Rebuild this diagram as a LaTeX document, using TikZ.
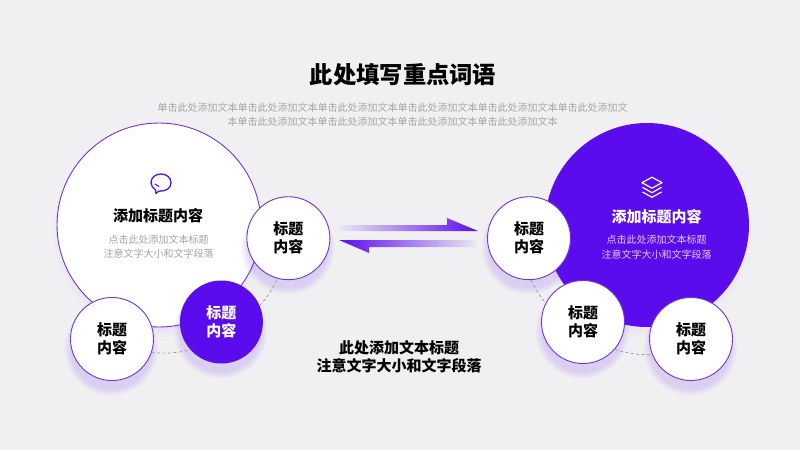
\documentclass[tikz,border=0pt]{standalone}
\usepackage{fontspec}
\setmainfont{Noto Sans CJK SC}
\usetikzlibrary{shadows}
\definecolor{bgray}{RGB}{240,240,242}
\definecolor{vivid}{RGB}{91,12,236}
\definecolor{ringline}{RGB}{112,52,214}
\definecolor{softtext}{RGB}{165,165,168}
\definecolor{liltext}{RGB}{226,204,255}
\tikzset{
  bigdisc/.style={circle,minimum size=204pt,inner sep=0pt,circular drop shadow={shadow xshift=-1pt,shadow yshift=-6pt,shadow scale=1.04,fill=vivid,opacity=.08}},
  smalldisc/.style={circle,minimum size=83pt,inner sep=0pt,align=center,circular drop shadow={shadow xshift=-1pt,shadow yshift=-8pt,shadow scale=1.14,fill=vivid,opacity=.14},font=\fontsize{15}{18}\selectfont\bfseries},
  orbit/.style={dashed,draw=gray!80,line width=.7pt,dash pattern=on 3pt off 2.5pt},
  headline/.style={font=\fontsize{15}{18}\selectfont\bfseries},
  bodyline/.style={align=center,font=\fontsize{10}{14.5}\selectfont}
}
\begin{document}
\begin{tikzpicture}[x=1pt,y=-1pt]
        \fill[bgray] (0,0) rectangle (800,450);
        \useasboundingbox (0,0) rectangle (800,450);
        % title
        \node[font=\fontsize{23.3}{28}\selectfont\bfseries] (title) at (403,75) {此处填写重点词语};
        \node[bodyline,text=softtext,font=\fontsize{10}{14}\selectfont] (intro) at (392.5,115) {单击此处添加文本单击此处添加文本单击此处添加文本单击此处添加文本单击此处添加文本单击此处添加文\\本单击此处添加文本单击此处添加文本单击此处添加文本单击此处添加文本};
        % big circles
        \node[bigdisc,draw=ringline,line width=.9pt,fill=white] (leftbig) at (159,225) {};
        \node[bigdisc,fill=vivid] (rightbig) at (647,225) {};
        % left group
        \node[smalldisc,draw=ringline,line width=.9pt,fill=white] (lefttop) at (288.4,238.2) {标题\\内容};
        \node[smalldisc,fill=vivid,text=white] (leftmid) at (221.4,322) {标题\\内容};
        \node[smalldisc,draw=ringline,line width=.9pt,fill=white] (leftlow) at (112,339) {标题\\内容};
        % right group
        \node[smalldisc,draw=ringline,line width=.9pt,fill=white] (righttop) at (529,238.2) {标题\\内容};
        \node[smalldisc,draw=ringline,line width=.9pt,fill=white] (rightmid) at (583,322) {标题\\内容};
        \node[smalldisc,draw=ringline,line width=.9pt,fill=white] (rightlow) at (691,339) {标题\\内容};
        % dashed links
        \draw[orbit] (leftlow.-19) to[bend right=8] (leftmid.222);
        \draw[orbit] (leftmid.23) to[bend right=7] (lefttop.255);
        \draw[orbit] (righttop.-87) to[bend right=7] (rightmid.153);
        \draw[orbit] (rightmid.-41) to[bend right=8] (rightlow.202);
        % texts in the big circles
        \node[headline] (lefthead) at (158,215.5) {添加标题内容};
        \node[bodyline,text=softtext] (leftbody) at (158.5,246.5) {点击此处添加文本标题\\注意文字大小和文字段落};
        \node[headline,text=white] (righthead) at (656.5,217) {添加标题内容};
        \node[bodyline,text=liltext] (rightbody) at (656.5,247) {点击此处添加文本标题\\注意文字大小和文字段落};
        % icons
        \draw[vivid,line width=1.3pt,line join=round] (155.5,190) .. controls (153,188) and (151,186) .. (151,182.7)
          .. controls (151,177.5) and (155.5,174) .. (161,174) .. controls (166.5,174) and (171,177.5) .. (171,182.7)
          .. controls (171,188) and (166.5,191) .. (161,191) .. controls (159,191) and (158,191) .. (156,193.5) -- cycle;
        \draw[vivid,line width=1.1pt,line cap=round] (155,184) -- (159,186.5);
        \draw[white,line width=1.2pt,line join=round] (652,177.2) -- (662,182.7) -- (652,188.2) -- (642,182.7) -- cycle;
        \draw[white,line width=1.2pt,line join=round] (642.5,187.3) -- (652,192.7) -- (661.5,187.3);
        \draw[white,line width=1.2pt,line join=round] (642.5,192) -- (652,197.3) -- (661.5,192);
        % arrows
        \shade[left color=vivid!4!bgray,right color=vivid] (340,225) -- (447,225) -- (447,218) -- (478,231) -- (340,231) -- cycle;
        \shade[left color=vivid,right color=vivid!4!bgray] (339,240) -- (476,240) -- (476,247) -- (369,247) -- (369,253) -- cycle;
        % bottom text
        \node[headline,align=center] (note) at (399,357) {此处添加文本标题\\注意文字大小和文字段落};
      \end{tikzpicture}
\end{document}
